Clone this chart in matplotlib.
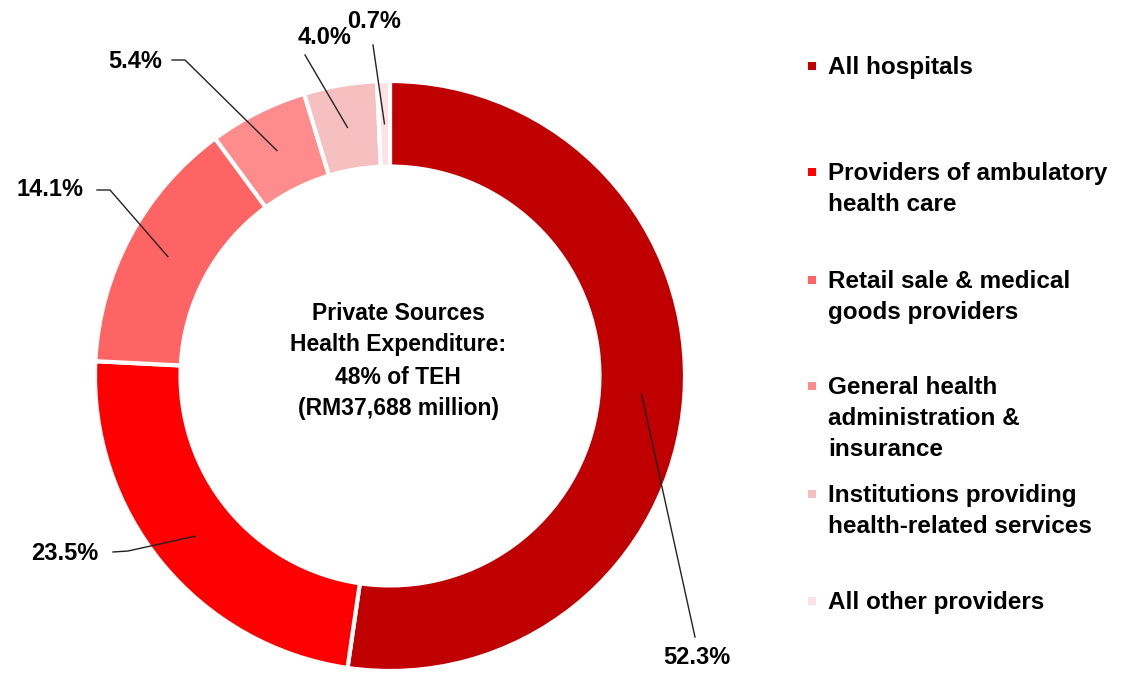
import numpy as np
import matplotlib
matplotlib.use('Agg')
import matplotlib.pyplot as plt

# data
categories = ['All hospitals',
              'Providers of ambulatory\nhealth care',
              'Retail sale & medical\ngoods providers',
              'General health\nadministration &\ninsurance',
              'Institutions providing\nhealth-related services',
              'All other providers']
shares = [52.3, 23.5, 14.1, 5.4, 4.0, 0.7]
colors = ['#C00000', '#FF0000', '#FF6464', '#FF8C8C', '#F6C0C0', '#FCE2E2']
center_text = 'Private Sources\nHealth Expenditure:\n48% of TEH\n(RM37,688 million)'

W, H = 1141, 673
plt.rcParams['font.family'] = ['Liberation Sans', 'DejaVu Sans']
plt.rcParams['font.weight'] = 'bold'

fig = plt.figure(figsize=(W / 100, H / 100), dpi=100)
ax = fig.add_axes([0, 0, 1, 1])

cx, cy, R = 390, H - 376, 295
wedges, _ = ax.pie(shares, colors=colors, startangle=90, counterclock=False,
                   center=(cx, cy), radius=R,
                   wedgeprops=dict(width=0.29 * R, edgecolor='white', linewidth=3))
ax.set_xlim(0, W); ax.set_ylim(0, H)
ax.set_aspect('equal'); ax.axis('off')

ax.text(398, H - 361, center_text, ha='center', va='center', fontsize=16.5,
        fontweight='bold', linespacing=1.5)

# label text positions and leader elbows (pixel coords, y down)
lab_pos = [(697, 657), (65, 553), (50, 190), (135, 62), (325, 38), (374, 22)]
elbows = [[(695, 637)],
          [(113, 552), (128, 551)],
          [(97, 190), (110, 190)],
          [(172, 60), (185, 60)],
          [(305, 55)],
          [(373, 45)]]
rmid = R * (1 - 0.29 / 2)
for w, s, (tx, ty), pts in zip(wedges, shares, lab_pos, elbows):
    a = np.deg2rad((w.theta1 + w.theta2) / 2)
    ax_, ay_ = cx + rmid * np.cos(a), cy + rmid * np.sin(a)
    xs = [p[0] for p in pts] + [ax_]
    ys = [H - p[1] for p in pts] + [ay_]
    ax.plot(xs, ys, color='#222222', lw=1)
    ax.text(tx, H - ty, f'{s:.1f}%', ha='center', va='center', fontsize=17,
            fontweight='bold')

# legend
leg_y = [66, 172, 280, 386, 494, 601]
for c, lab, y in zip(colors, categories, leg_y):
    ax.scatter([812], [H - y], marker='s', s=40, color=c, linewidths=0)
    ax.text(828, H - y + 10, lab, ha='left', va='top', fontsize=17.5,
            fontweight='bold', linespacing=1.45)

fig.savefig('out.png', dpi=100)
